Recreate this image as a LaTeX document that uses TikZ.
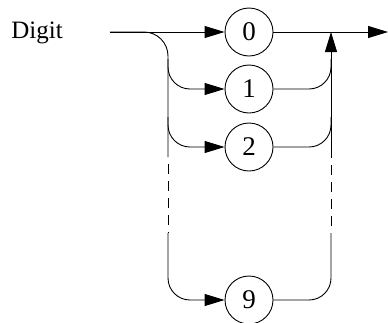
\documentclass[tikz,border=0pt]{standalone}
\usepackage{fontspec}
\setmainfont{Liberation Serif}
\usetikzlibrary{arrows.meta}
\begin{document}
\begin{tikzpicture}[x=1pt,y=-1pt,
  line width=0.9pt,
  arr/.style={-{Triangle[length=20pt,width=12pt]}},
  term/.style={circle,draw,minimum size=48pt,inner sep=0pt,font=\fontsize{27}{27}\selectfont},
  dsh/.style={dash pattern=on 10pt off 7pt,dash phase=10pt}]
\useasboundingbox (0,0) rectangle (388,322);
\node[anchor=base west,inner sep=0pt,font=\fontsize{25}{25}\selectfont] (lbl) at (11,38) {Digit};
\coordinate (s) at (110,32);
\coordinate (e) at (388,32);
\node[term] (c0) at (249,32) {0};
\node[term] (c1) at (249,89) {1};
\node[term] (c2) at (249,147) {2};
\node[term] (c9) at (249,300) {9};
\coordinate (lt) at (168,32);
\coordinate (ld1) at (168,157);
\coordinate (ld2) at (168,233);
\coordinate (lb) at (168,300);
\coordinate (rt) at (331,32);
\coordinate (rd1) at (331,157);
\coordinate (rd2) at (331,233);
\coordinate (rb) at (331,300);
% main line
\draw[arr] (s) -- (c0);
\draw[arr] (c0) -- (e);
% left rail
\draw[rounded corners=24pt] (s) -- (lt) -- (ld1);
\draw[dsh] (ld1) -- (ld2);
\draw[arr,rounded corners=22pt] ([yshift=30pt]lt |- c1) -- (lt |- c1) -- (c1);
\draw[arr,rounded corners=22pt] ([yshift=30pt]lt |- c2) -- (lt |- c2) -- (c2);
\draw[arr,rounded corners=22pt] (ld2) -- (lb) -- (c9);
% right rail
\draw[arr] (rd1) -- (rt);
\draw[dsh] (rd2) -- (rd1);
\draw[rounded corners=22pt] (c1) -- (rt |- c1) -- ([yshift=30pt]rt |- c1);
\draw[rounded corners=22pt] (c2) -- (rt |- c2) -- ([yshift=30pt]rt |- c2);
\draw[rounded corners=22pt] (c9) -- (rb) -- (rd2);
\end{tikzpicture}
\end{document}
